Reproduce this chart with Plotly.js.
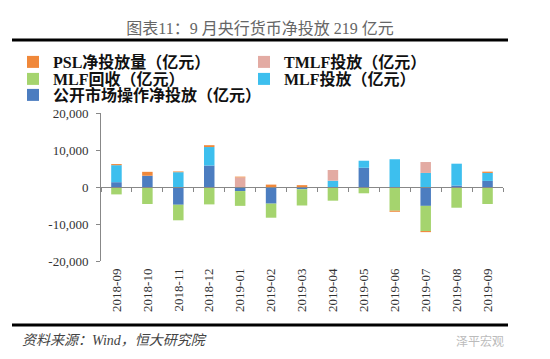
<!DOCTYPE html>
<html>
<head>
<meta charset="utf-8">
<script src="https://cdn.plot.ly/plotly-3.0.1.min.js"></script>
<style>html,body{margin:0;padding:0;background:#fff;}#chart{width:550px;height:359px;}</style>
</head>
<body>
<div id="chart"></div>
<script>
const categories = ['2018-09','2018-10','2018-11','2018-12','2019-01','2019-02','2019-03','2019-04','2019-05','2019-06','2019-07','2019-08','2019-09'];
const omoNet      = [1300, 3050, -4800, 5800, -1100, -4500, -600,     0, 5200,     0, -5100,  400, 1650];
const mlfIssue    = [4600,    0,  4000, 5000,     0,     0,    0,  1700, 1900,  7500,  3800, 5900, 2150];
const mlfMature   = [-2000,-4600, -4200,-4700, -4000, -3800, -4400, -3700,-1700, -6400, -6800,-5600,-4600];
const tmlfIssue   = [   0,    0,     0,    0,  2600,     0,    0,  2900,    0,     0,  2950,    0,    0];
const pslNet      = [ 300, 1050,   200,  500,   200,   650,  500,     0,    0,  -300,  -300,    0,  350];
const yTickVals   = [-20000, -10000, 0, 10000, 20000];
const yTickLabels = ['-20,000', '-10,000', '0', '10,000', '20,000'];

const serif = 'Liberation Serif, Times New Roman, Noto Sans CJK SC, serif';
const colors = {omo:'#4C7DC0', mlf:'#3DBFEE', mlfBack:'#A5D46E', tmlf:'#E3ABA3', psl:'#F0883A'};

const traces = [
  {type:'bar', name:'公开市场操作净投放（亿元）', x:categories, y:omoNet, marker:{color:colors.omo}, legend:'legend5'},
  {type:'bar', name:'MLF投放（亿元）', x:categories, y:mlfIssue, marker:{color:colors.mlf}, legend:'legend4'},
  {type:'bar', name:'MLF回收（亿元）', x:categories, y:mlfMature, marker:{color:colors.mlfBack}, legend:'legend3'},
  {type:'bar', name:'TMLF投放（亿元）', x:categories, y:tmlfIssue, marker:{color:colors.tmlf}, legend:'legend2'},
  {type:'bar', name:'PSL净投放量（亿元）', x:categories, y:pslNet, marker:{color:colors.psl}, legend:'legend'},
  {type:'scatter', x:[], y:[], xaxis:'x2', yaxis:'y', showlegend:false, hoverinfo:'skip'}
];

const W = 550, H = 359;
const L = 101, R = 503, T = 113, B = 261;
const px = v => (v - L) / (R - L);
const py = v => (B - v) / (B - T);

const legendFont = {family: serif, size: 16, color: '#111', weight: 'bold'};
function legendAt(xPix, yPix) {
  return {orientation: 'v', xref: 'paper', yref: 'paper', x: px(xPix), xanchor: 'left',
          y: py(yPix), yanchor: 'middle', font: legendFont, bgcolor: 'rgba(0,0,0,0)',
          itemwidth: 30, borderwidth: 0};
}

const layout = {
  width: W, height: H,
  margin: {l: L, r: W - R, t: T, b: H - B, pad: 0},
  paper_bgcolor: '#fff', plot_bgcolor: '#fff',
  barmode: 'relative',
  bargap: 0.66,
  showlegend: true,
  title: {text: '图表11：9 月央行货币净投放 219 亿元', font: {family: serif, size: 16, color: '#666'},
          xref: 'container', x: 260 / W, xanchor: 'center', yref: 'container', y: 1 - 28 / H, yanchor: 'middle'},
  legend: legendAt(13, 62),
  legend2: legendAt(244, 62),
  legend3: legendAt(13, 79),
  legend4: legendAt(244, 79),
  legend5: legendAt(13, 95),
  xaxis: {type: 'category', categoryorder: 'array', categoryarray: categories,
          tickangle: -90, tickfont: {family: serif, size: 13, color: '#333'}, ticklabelstandoff: 4,
          showline: false, ticks: '', showgrid: false, zeroline: false, automargin: false},
  xaxis2: {type: 'linear', overlaying: 'x', anchor: 'free', position: py(187),
           range: [-0.5, categories.length - 0.5], tick0: -0.5, dtick: 1,
           ticks: 'outside', ticklen: 4, tickcolor: '#888', showticklabels: false,
           showline: true, linecolor: '#888', linewidth: 1, showgrid: false, zeroline: false},
  yaxis: {range: [-20000, 20000], tickvals: yTickVals, ticktext: yTickLabels,
          tickfont: {family: serif, size: 13, color: '#333'}, ticks: 'outside', ticklen: 4,
          ticklabelstandoff: 5,
          tickcolor: '#888', showline: true, linecolor: '#888', linewidth: 1,
          showgrid: false, zeroline: false, automargin: false},
  shapes: [
    {type: 'line', xref: 'paper', yref: 'paper', x0: px(12), x1: px(508), y0: py(40), y1: py(40), line: {color: '#000', width: 3}},
    {type: 'line', xref: 'paper', yref: 'paper', x0: px(12), x1: px(508), y0: py(325), y1: py(325), line: {color: '#000', width: 3}}
  ],
  annotations: [
    {text: '<i>资料来源：Wind，恒大研究院</i>', xref: 'paper', yref: 'paper', x: px(20), y: py(340),
     xanchor: 'left', yanchor: 'middle', showarrow: false, font: {family: serif, size: 14, color: '#444'}},
    {text: '泽平宏观', xref: 'paper', yref: 'paper', x: px(506), y: py(340),
     xanchor: 'right', yanchor: 'middle', showarrow: false, font: {family: 'Noto Sans CJK SC, sans-serif', size: 12, color: '#bbb'}}
  ]
};

Plotly.newPlot('chart', traces, layout, {displayModeBar: false, staticPlot: true});
</script>
</body>
</html>
